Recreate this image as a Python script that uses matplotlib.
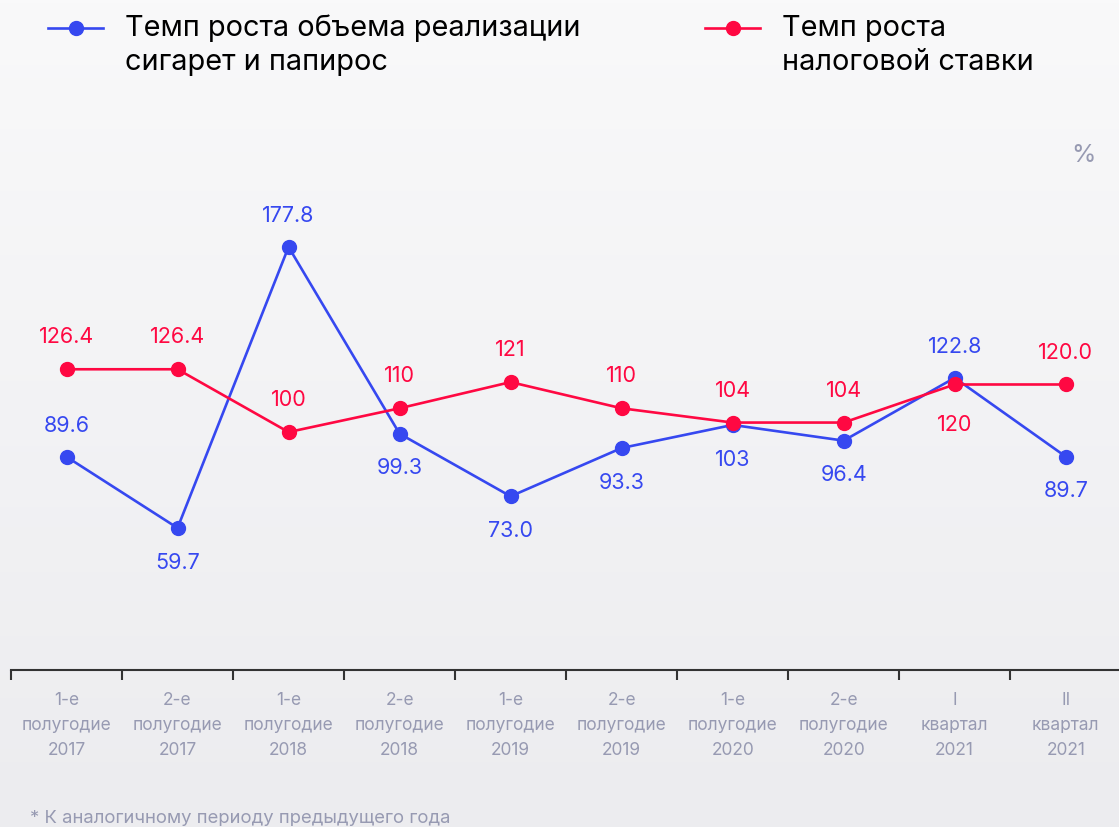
import numpy as np
import matplotlib
matplotlib.use("Agg")
import matplotlib.pyplot as plt
from matplotlib.lines import Line2D

plt.rcParams['font.family'] = ['Inter', 'DejaVu Sans']

# Chart data
periods = [
    "1-е\nполугодие\n2017", "2-е\nполугодие\n2017",
    "1-е\nполугодие\n2018", "2-е\nполугодие\n2018",
    "1-е\nполугодие\n2019", "2-е\nполугодие\n2019",
    "1-е\nполугодие\n2020", "2-е\nполугодие\n2020",
    "I\nквартал\n2021", "II\nквартал\n2021",
]
sales_growth = [89.6, 59.7, 177.8, 99.3, 73.0, 93.3, 103, 96.4, 122.8, 89.7]
sales_labels = ["89.6", "59.7", "177.8", "99.3", "73.0", "93.3", "103", "96.4", "122.8", "89.7"]
sales_above = [True, False, True, False, False, False, False, False, True, False]

tax_growth = [126.4, 126.4, 100, 110, 121, 110, 104, 104, 120, 120.0]
tax_labels = ["126.4", "126.4", "100", "110", "121", "110", "104", "104", "120", "120.0"]
tax_above = [True, True, True, True, True, True, True, True, False, True]

sales_name = ["Темп роста объема реализации", "сигарет и папирос"]
tax_name = ["Темп роста", "налоговой ставки"]
footnote = "* К аналогичному периоду предыдущего года"

BLUE = "#3648f0"
RED = "#ff0842"
GRAY = "#979ab2"

fig = plt.figure(figsize=(11.19, 8.27), dpi=100)

# gradient background
bg = fig.add_axes([0, 0, 1, 1], zorder=-10)
grad = np.linspace(0, 1, 256).reshape(-1, 1)
top = np.array([249, 249, 250]) / 255
bottom = np.array([236, 236, 239]) / 255
img = top + (bottom - top) * grad[:, :, None]
bg.imshow(img, aspect='auto', extent=[0, 1, 0, 1], origin='upper')
bg.axis('off')

W, H = 1119, 827
ax = fig.add_axes([11 / W, 157 / H, 1108 / W, 670 / H])
ax.patch.set_alpha(0)
x = np.arange(len(periods))

ax.plot(x, sales_growth, color=BLUE, lw=1.9, marker='o', ms=10, zorder=3)
ax.plot(x, tax_growth, color=RED, lw=1.9, marker='o', ms=10, zorder=3)

for xi, v, lab, up in zip(x, sales_growth, sales_labels, sales_above):
    ax.annotate(lab, (xi, v), xytext=(0, 22 if up else -25), textcoords='offset points',
                ha='center', va='center', fontsize=15.5, color=BLUE)
for xi, v, lab, up in zip(x, tax_growth, tax_labels, tax_above):
    ax.annotate(lab, (xi, v), xytext=(0, 23 if up else -29), textcoords='offset points',
                ha='center', va='center', fontsize=15.5, color=RED)

ax.set_xlim(-0.5, 9.48)
ax.set_ylim(0, 281.6)
for s in ['top', 'right', 'left']:
    ax.spines[s].set_visible(False)
ax.spines['bottom'].set_color('#333333')
ax.spines['bottom'].set_linewidth(1.5)
ax.set_yticks([])
ax.set_xticks(x - 0.5, minor=False)
ax.set_xticklabels([])
ax.tick_params(axis='x', which='major', length=7, width=1.5, color='#333333', direction='out')
ax.set_xticks(x, minor=True)
ax.set_xticklabels(periods, minor=True, fontsize=12.5, color=GRAY, linespacing=1.6)
ax.tick_params(axis='x', which='minor', length=0, pad=16)


# legend drawn by hand so the marker lines up with the first text line
def legend_entry(x0, color, lines):
    y = 1 - 28 / H
    fig.add_artist(Line2D([x0 / W, (x0 + 55) / W], [y, y], color=color, lw=1.9,
                          transform=fig.transFigure))
    fig.add_artist(Line2D([(x0 + 27.5) / W], [y], color=color, marker='o', ms=10,
                          transform=fig.transFigure))
    for i, line in enumerate(lines):
        fig.text((x0 + 77) / W, 1 - (28 + 34 * i) / H, line, ha='left', va='center',
                 fontsize=20.8, color='black')


legend_entry(48, BLUE, sales_name)
legend_entry(705, RED, tax_name)

fig.text(1096 / W, 1 - 155 / H, "%", ha='right', va='center', fontsize=18, color=GRAY)
fig.text(30 / W, 1 - 819 / H, footnote, ha='left', va='center', fontsize=13.3, color=GRAY)

fig.savefig("out.png", dpi=100)
